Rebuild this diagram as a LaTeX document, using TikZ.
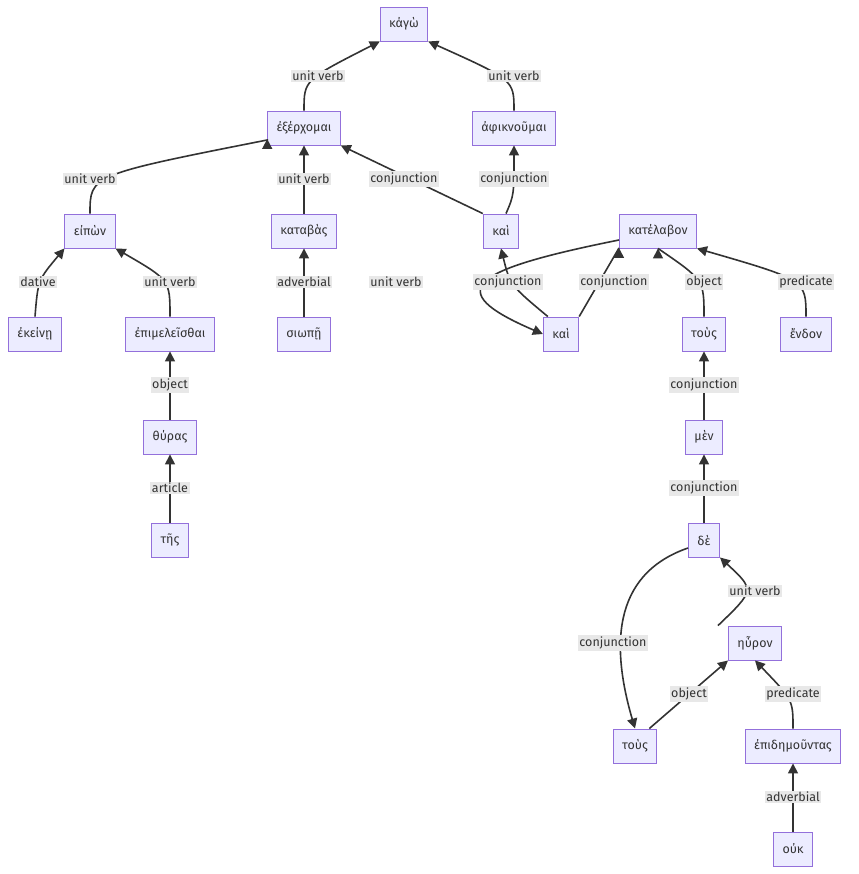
\documentclass[tikz,border=0pt]{standalone}
\usepackage{fontspec}
\setmainfont{Fira Sans}
\usetikzlibrary{arrows.meta}
\definecolor{nfill}{HTML}{ECECFF}
\definecolor{ndraw}{HTML}{9370DB}
\definecolor{edge}{HTML}{333333}
\definecolor{lbl}{HTML}{E8E8E8}
\tikzset{
 nd/.style={draw=ndraw,fill=nfill,line width=0.9pt,minimum height=34pt,inner xsep=9pt,font=\fontsize{12.5}{14}\selectfont,text=edge},
 ed/.style={draw=edge,line width=1.6pt,-{Triangle[length=10pt,width=10pt]}},
 lb/.style={fill=lbl,inner sep=1.5pt,font=\fontsize{12.5}{14}\selectfont,text=edge},
}
\begin{document}
\begin{tikzpicture}[x=1pt,y=-1pt]
\useasboundingbox (0,0) rectangle (858,874);
\node[nd] (kago) at (404,24) {κάγὼ};
\node[nd] (exer) at (304,128) {ἐξέρχομαι};
\node[nd] (afik) at (514,128) {ἀφικνοῦμαι};
\node[nd] (eipon) at (90,231) {εἰπὼν};
\node[nd] (katab) at (304,231) {καταβὰς};
\node[nd] (kai1) at (501,231) {καὶ};
\node[nd] (katel) at (658,231) {κατέλαβον};
\node[nd] (ekein) at (35,334) {ἐκείνῃ};
\node[nd] (epim) at (170,334) {ἐπιμελεῖσθαι};
\node[nd] (siop) at (304,334) {σιωπῇ};
\node[nd] (kai2) at (561,334) {καὶ};
\node[nd] (tous1) at (704,334) {τοὺς};
\node[nd] (endon) at (806,334) {ἔνδον};
\node[nd] (thyr) at (170,437) {θύρας};
\node[nd] (men) at (704,437) {μὲν};
\node[nd] (tes) at (170,540) {τῆς};
\node[nd] (de) at (704,540) {δὲ};
\node[nd] (hyr) at (755,643) {ηὗρον};
\node[nd] (tous2) at (635,746) {τοὺς};
\node[nd] (epid) at (793,746) {ἐπιδημοῦντας};
\node[nd] (ouk) at (793,849) {οὐκ};

\draw[ed] (exer.north) .. controls (304,80) .. (kago.south west);
\draw[ed] (afik.north) .. controls (514,80) .. (kago.south east);
\draw[ed] (eipon.north) .. controls (90,175) .. (exer.south west |- 0,140) -- (exer.west |- 0,139);
\draw[ed] (katab) -- (exer);
\draw[ed] (kai1.north west) -- (exer.south east);
\draw[ed] (kai1.north) ++(5,0) .. controls (514,195) .. (afik.south);
\draw[ed] (ekein.north) .. controls (38,280) .. (eipon.south west);
\draw[ed] (epim.north) .. controls (170,280) .. (eipon.south east);
\draw[ed] (siop) -- (katab);
\draw[ed] (kai2.north west) ++(5,0) .. controls (510,285) .. (kai1.south);
\draw[ed] (kai2.north east) -- (katel.south west |- 0,248) ++(0,0);
\draw[ed] (katel.west) ++(0,9) .. controls (470,270) and (440,290) .. (kai2.west);
\draw[ed] (tous1.north) .. controls (704,280) .. (katel.south) ++(0,0);
\draw[ed] (endon.north) .. controls (806,280) .. (katel.south east);
\draw[ed] (thyr) -- (epim);
\draw[ed] (tes) -- (thyr);
\draw[ed] (men) -- (tous1);
\draw[ed] (de) -- (men);
\draw[ed] (hyr.north west) ++(-10,0) .. controls (755,590) .. (de.south east);
\draw[ed] (de.west) ++(0,8) .. controls (610,575) and (612,650) .. (tous2.north);
\draw[ed] (tous2.north east) ++(-8,0) -- (hyr.south west);
\draw[ed] (epid.north) .. controls (793,700) .. (hyr.south);
\draw[ed] (ouk) -- (epid);

\node[lb] at (318,76) {unit verb};
\node[lb] at (514,76) {unit verb};
\node[lb] at (90,179) {unit verb};
\node[lb] at (304,179) {unit verb};
\node[lb] at (404,179) {conjunction};
\node[lb] at (514,179) {conjunction};
\node[lb] at (38,282) {dative};
\node[lb] at (170,282) {unit verb};
\node[lb] at (304,282) {adverbial};
\node[lb] at (396,282) {unit verb};
\node[lb] at (508,282) {conjunction};
\node[lb] at (614,282) {conjunction};
\node[lb] at (704,282) {object};
\node[lb] at (806,282) {predicate};
\node[lb] at (170,385) {object};
\node[lb] at (704,385) {conjunction};
\node[lb] at (170,488) {article};
\node[lb] at (704,488) {conjunction};
\node[lb] at (755,591) {unit verb};
\node[lb] at (613,643) {conjunction};
\node[lb] at (689,694) {object};
\node[lb] at (793,694) {predicate};
\node[lb] at (793,797) {adverbial};
\end{tikzpicture}
\end{document}
